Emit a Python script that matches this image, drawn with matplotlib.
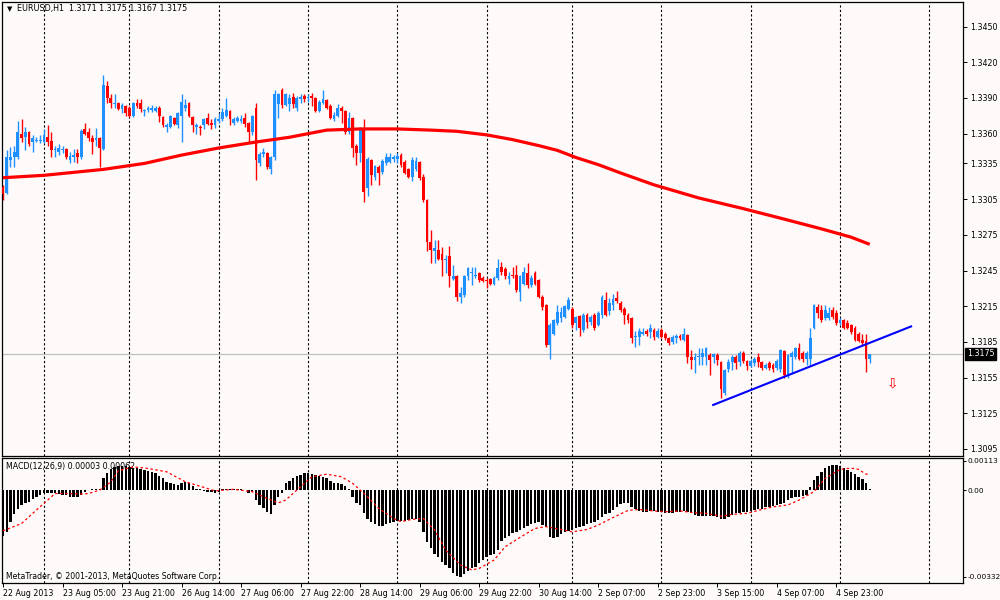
import numpy as np
import matplotlib
matplotlib.use('Agg')
import matplotlib.pyplot as plt

# EURUSD H1 candles, one per hour, bar 0 = 22 Aug 2013 13:00
opens = [1.3315,1.3310,1.3338,1.3340,1.3340,1.3360,1.3357,1.3361,1.3353,1.3354,
         1.3354,1.3353,1.3357,1.3354,1.3346,1.3345,1.3346,1.3347,1.3338,1.3340,
         1.3344,1.3340,1.3364,1.3361,1.3356,1.3355,1.3356,1.3347,1.3400,1.3390,
         1.3385,1.3386,1.3381,1.3383,1.3382,1.3375,1.3386,1.3386,1.3379,1.3380,
         1.3380,1.3379,1.3382,1.3374,1.3366,1.3366,1.3373,1.3367,1.3375,1.3382,
         1.3386,1.3374,1.3366,1.3366,1.3367,1.3373,1.3369,1.3367,1.3371,1.3372,
         1.3375,1.3379,1.3369,1.3371,1.3371,1.3373,1.3369,1.3361,1.3382,1.3335,
         1.3343,1.3344,1.3330,1.3340,1.3385,1.3397,1.3384,1.3385,1.3391,1.3382,
         1.3389,1.3392,1.3390,1.3392,1.3390,1.3379,1.3386,1.3388,1.3383,1.3372,
         1.3375,1.3382,1.3379,1.3361,1.3373,1.3350,1.3344,1.3365,1.3314,1.3338,
         1.3324,1.3332,1.3328,1.3335,1.3336,1.3339,1.3339,1.3342,1.3336,1.3330,
         1.3324,1.3330,1.3336,1.3324,1.3304,1.3269,1.3261,1.3262,1.3259,1.3254,
         1.3257,1.3238,1.3240,1.3223,1.3224,1.3240,1.3243,1.3240,1.3243,1.3239,
         1.3237,1.3238,1.3234,1.3239,1.3248,1.3246,1.3238,1.3241,1.3241,1.3227,
         1.3234,1.3243,1.3233,1.3243,1.3237,1.3223,1.3216,1.3182,1.3192,1.3201,
         1.3205,1.3206,1.3213,1.3213,1.3201,1.3207,1.3195,1.3208,1.3202,1.3208,
         1.3199,1.3208,1.3220,1.3211,1.3216,1.3222,1.3218,1.3213,1.3208,1.3205,
         1.3189,1.3189,1.3192,1.3194,1.3193,1.3195,1.3189,1.3195,1.3192,1.3188,
         1.3185,1.3188,1.3190,1.3187,1.3191,1.3172,1.3170,1.3172,1.3172,1.3172,
         1.3174,1.3172,1.3174,1.3168,1.3142,1.3162,1.3168,1.3172,1.3168,1.3176,
         1.3169,1.3165,1.3167,1.3172,1.3168,1.3163,1.3167,1.3166,1.3163,1.3162,
         1.3177,1.3157,1.3172,1.3172,1.3180,1.3176,1.3171,1.3171,1.3197,1.3214,
         1.3212,1.3205,1.3205,1.3212,1.3209,1.3201,1.3203,1.3201,1.3199,1.3197,
         1.3192,1.3187,1.3186,1.3171]
highs = [1.3317,1.3346,1.3349,1.3350,1.3371,1.3372,1.3366,1.3362,1.3359,1.3357,
         1.3359,1.3364,1.3367,1.3361,1.3350,1.3351,1.3350,1.3348,1.3345,1.3347,
         1.3347,1.3364,1.3369,1.3365,1.3359,1.3365,1.3357,1.3409,1.3404,1.3393,
         1.3393,1.3387,1.3386,1.3384,1.3383,1.3387,1.3389,1.3389,1.3381,1.3383,
         1.3384,1.3383,1.3383,1.3375,1.3369,1.3376,1.3374,1.3378,1.3393,1.3389,
         1.3387,1.3375,1.3369,1.3367,1.3373,1.3377,1.3372,1.3374,1.3377,1.3382,
         1.3390,1.3380,1.3374,1.3375,1.3376,1.3377,1.3370,1.3376,1.3386,1.3345,
         1.3348,1.3345,1.3341,1.3397,1.3394,1.3398,1.3394,1.3393,1.3394,1.3392,
         1.3393,1.3393,1.3393,1.3394,1.3391,1.3388,1.3397,1.3389,1.3385,1.3378,
         1.3385,1.3383,1.3380,1.3378,1.3374,1.3351,1.3366,1.3372,1.3340,1.3339,
         1.3334,1.3334,1.3339,1.3344,1.3344,1.3342,1.3344,1.3344,1.3338,1.3331,
         1.3340,1.3340,1.3337,1.3326,1.3305,1.3279,1.3271,1.3271,1.3265,1.3258,
         1.3266,1.3250,1.3241,1.3231,1.3241,1.3248,1.3248,1.3248,1.3244,1.3240,
         1.3239,1.3239,1.3240,1.3255,1.3252,1.3248,1.3244,1.3248,1.3250,1.3241,
         1.3248,1.3251,1.3241,1.3245,1.3238,1.3224,1.3217,1.3201,1.3204,1.3216,
         1.3214,1.3216,1.3223,1.3214,1.3207,1.3208,1.3209,1.3209,1.3208,1.3209,
         1.3211,1.3224,1.3227,1.3222,1.3225,1.3228,1.3219,1.3214,1.3209,1.3206,
         1.3194,1.3197,1.3197,1.3196,1.3200,1.3197,1.3197,1.3197,1.3193,1.3189,
         1.3191,1.3192,1.3192,1.3197,1.3192,1.3178,1.3176,1.3180,1.3180,1.3181,
         1.3176,1.3176,1.3176,1.3169,1.3162,1.3171,1.3174,1.3174,1.3177,1.3177,
         1.3170,1.3171,1.3172,1.3176,1.3169,1.3167,1.3169,1.3167,1.3171,1.3179,
         1.3178,1.3175,1.3177,1.3181,1.3184,1.3177,1.3177,1.3197,1.3217,1.3217,
         1.3216,1.3216,1.3214,1.3214,1.3212,1.3205,1.3204,1.3203,1.3200,1.3198,
         1.3193,1.3192,1.3192,1.3175]
lows = [1.3304,1.3309,1.3332,1.3332,1.3339,1.3353,1.3346,1.3350,1.3345,1.3353,
        1.3352,1.3352,1.3350,1.3340,1.3340,1.3342,1.3344,1.3339,1.3335,1.3336,
        1.3335,1.3339,1.3359,1.3354,1.3343,1.3350,1.3332,1.3346,1.3386,1.3382,
        1.3382,1.3380,1.3377,1.3375,1.3374,1.3374,1.3382,1.3378,1.3375,1.3378,
        1.3378,1.3378,1.3370,1.3366,1.3361,1.3365,1.3367,1.3365,1.3353,1.3379,
        1.3374,1.3361,1.3360,1.3359,1.3364,1.3367,1.3364,1.3365,1.3369,1.3371,
        1.3374,1.3367,1.3367,1.3370,1.3369,1.3366,1.3353,1.3359,1.3321,1.3333,
        1.3340,1.3330,1.3326,1.3338,1.3373,1.3382,1.3383,1.3379,1.3382,1.3379,
        1.3386,1.3387,1.3387,1.3383,1.3378,1.3378,1.3385,1.3381,1.3372,1.3371,
        1.3374,1.3369,1.3360,1.3360,1.3340,1.3334,1.3336,1.3303,1.3308,1.3317,
        1.3321,1.3317,1.3326,1.3334,1.3335,1.3336,1.3335,1.3332,1.3326,1.3323,
        1.3320,1.3329,1.3321,1.3303,1.3261,1.3251,1.3251,1.3254,1.3240,1.3243,
        1.3231,1.3237,1.3219,1.3218,1.3223,1.3237,1.3233,1.3239,1.3235,1.3235,
        1.3230,1.3233,1.3233,1.3237,1.3241,1.3238,1.3234,1.3239,1.3227,1.3219,
        1.3233,1.3230,1.3231,1.3233,1.3222,1.3212,1.3181,1.3171,1.3191,1.3199,
        1.3202,1.3205,1.3212,1.3197,1.3195,1.3190,1.3193,1.3197,1.3199,1.3195,
        1.3198,1.3205,1.3207,1.3208,1.3212,1.3218,1.3210,1.3200,1.3201,1.3184,
        1.3181,1.3182,1.3191,1.3190,1.3188,1.3187,1.3188,1.3188,1.3187,1.3182,
        1.3183,1.3184,1.3187,1.3186,1.3167,1.3162,1.3159,1.3166,1.3166,1.3166,
        1.3157,1.3167,1.3166,1.3138,1.3140,1.3160,1.3161,1.3162,1.3165,1.3167,
        1.3161,1.3164,1.3165,1.3164,1.3161,1.3162,1.3161,1.3160,1.3161,1.3160,
        1.3155,1.3155,1.3159,1.3171,1.3170,1.3168,1.3166,1.3166,1.3196,1.3205,
        1.3202,1.3203,1.3203,1.3204,1.3199,1.3199,1.3196,1.3196,1.3192,1.3186,
        1.3185,1.3182,1.3160,1.3167]
closes = [1.3309,1.3340,1.3340,1.3345,1.3361,1.3356,1.3361,1.3351,1.3356,1.3355,
          1.3355,1.3359,1.3353,1.3346,1.3347,1.3348,1.3347,1.3340,1.3341,1.3342,
          1.3340,1.3362,1.3360,1.3356,1.3353,1.3356,1.3348,1.3401,1.3390,1.3386,
          1.3386,1.3381,1.3384,1.3377,1.3375,1.3386,1.3383,1.3381,1.3380,1.3382,
          1.3382,1.3382,1.3375,1.3367,1.3367,1.3375,1.3368,1.3377,1.3387,1.3384,
          1.3375,1.3367,1.3367,1.3365,1.3372,1.3368,1.3367,1.3372,1.3372,1.3378,
          1.3380,1.3372,1.3372,1.3373,1.3372,1.3368,1.3361,1.3375,1.3338,1.3343,
          1.3345,1.3332,1.3340,1.3393,1.3393,1.3384,1.3393,1.3390,1.3385,1.3390,
          1.3391,1.3389,1.3391,1.3390,1.3379,1.3387,1.3389,1.3382,1.3373,1.3376,
          1.3382,1.3379,1.3361,1.3373,1.3348,1.3344,1.3365,1.3311,1.3339,1.3325,
          1.3333,1.3327,1.3337,1.3340,1.3340,1.3340,1.3341,1.3334,1.3327,1.3324,
          1.3338,1.3337,1.3323,1.3304,1.3269,1.3262,1.3264,1.3255,1.3254,1.3255,
          1.3240,1.3240,1.3223,1.3226,1.3240,1.3247,1.3244,1.3241,1.3237,1.3236,
          1.3236,1.3234,1.3239,1.3247,1.3244,1.3240,1.3240,1.3240,1.3229,1.3240,
          1.3244,1.3233,1.3239,1.3234,1.3223,1.3214,1.3182,1.3199,1.3203,1.3210,
          1.3210,1.3215,1.3220,1.3199,1.3206,1.3197,1.3208,1.3202,1.3206,1.3197,
          1.3209,1.3223,1.3208,1.3218,1.3221,1.3219,1.3212,1.3208,1.3203,1.3188,
          1.3190,1.3194,1.3193,1.3192,1.3197,1.3189,1.3194,1.3189,1.3188,1.3184,
          1.3189,1.3190,1.3188,1.3192,1.3172,1.3170,1.3172,1.3173,1.3176,1.3180,
          1.3170,1.3175,1.3170,1.3145,1.3161,1.3168,1.3172,1.3167,1.3176,1.3169,
          1.3165,1.3169,1.3171,1.3168,1.3163,1.3166,1.3163,1.3162,1.3169,1.3178,
          1.3157,1.3174,1.3176,1.3180,1.3171,1.3171,1.3176,1.3188,1.3216,1.3209,
          1.3203,1.3212,1.3209,1.3206,1.3201,1.3203,1.3197,1.3197,1.3193,1.3187,
          1.3186,1.3184,1.3171,1.3175]

# moving average (red line), read at a number of bars
ma_bars = [0, 11, 27, 38, 48, 58, 68, 77, 82, 87, 96, 106, 115, 122, 130, 137, 144, 149, 154,
           160, 166, 175, 187, 199, 209, 220, 228, 233]
ma_vals = [1.3323, 1.3325, 1.3330, 1.3335, 1.3342, 1.3348, 1.3353, 1.3357, 1.3360, 1.3363,
           1.3364, 1.3364, 1.3363, 1.3362, 1.3359, 1.3355, 1.3350, 1.3346, 1.3340, 1.3334,
           1.3327, 1.3317, 1.3306, 1.3297, 1.3289, 1.3280, 1.3273, 1.3267]

# hand drawn trend line
trend_bars = [190.9, 244.1]
trend_vals = [1.3132, 1.3198]

# MACD(12,26,9) main histogram, in units of 0.00001
macd = [-176,-160,-121,-92,-74,-57,-51,-45,-36,-28,-19,-13,-10,-10,-13,-15,-19,-19,-26,-28,
        -28,-19,-6,-1,3,6,3,45,66,79,89,92,92,92,89,83,83,79,77,74,
        70,64,54,45,32,28,23,19,28,32,26,15,6,3,-3,-6,-6,-10,-6,3,
        6,6,3,3,3,-1,-13,-6,-38,-57,-70,-83,-92,-57,-26,-10,26,36,45,54,
        57,64,66,61,57,54,51,45,36,28,26,23,15,6,-26,-51,-57,-89,-109,-121,
        -128,-138,-138,-130,-125,-121,-117,-117,-117,-115,-109,-112,-121,-160,-198,-223,-243,-255,-275,-287,
        -300,-317,-329,-332,-322,-309,-300,-296,-281,-268,-255,-249,-243,-230,
        -194,-185,-176,-166,-160,-153,-147,-138,-128,-125,-121,-134,-140,-181,-185,-179,-169,-160,-156,-151,
        -147,-143,-138,-130,-125,-121,-115,-102,-92,-87,-77,-64,-54,-49,-51,-64,-74,-80,-83,-83,
        -79,-80,-83,-83,-86,-86,-87,-83,-83,-80,-83,-87,-96,-100,-100,-98,-100,-100,-102,-109,
        -109,-102,-96,-89,-87,-83,-83,-79,-77,-74,-72,-66,-66,-61,-57,-54,-49,-38,-32,-28,
        -26,-23,-17,10,38,54,70,83,92,96,96,92,83,77,70,61,51,41,26,3]
# signal line, read at a number of bars, units of 0.00001
sig_bars = [0,5,8,11,14,17,21,23,26,29,31,35,39,44,49,55,57,62,67,71,74,76,80,83,87,91,94,98,101,105,
            107,110,113,116,119,123,126,128,132,135,139,143,146,150,153,157,160,164,168,171,175,178,182,
            186,189,193,196,200,204,207,211,214,218,221,225,227,229,230,232,233]
sig_vals = [-156,-128,-89,-51,-13,-13,-15,-13,0,32,74,89,83,70,32,6,-3,3,-6,-32,-49,-38,13,51,61,51,26,
            -26,-70,-109,-121,-112,-109,-153,-230,-287,-306,-300,-268,-217,-181,-147,-140,-151,-160,-151,
            -134,-105,-78,-74,-80,-83,-80,-87,-89,-100,-93,-89,-74,-64,-57,-38,-6,45,79,83,83,79,61,62]

tick_bars = [0, 16, 32, 48, 64, 80, 96, 112, 128, 144, 160, 176, 192, 208, 224]
tick_labels = ['22 Aug 2013', '23 Aug 05:00', '23 Aug 21:00', '26 Aug 14:00', '27 Aug 06:00',
               '27 Aug 22:00', '28 Aug 14:00', '29 Aug 06:00', '29 Aug 22:00', '30 Aug 14:00',
               '2 Sep 07:00', '2 Sep 23:00', '3 Sep 15:00', '4 Sep 07:00', '4 Sep 23:00']
grid_bars = [11, 34, 58, 82, 106, 130, 153, 177, 201, 225, 249]
price_ticks = [1.3450, 1.3420, 1.3390, 1.3360, 1.3335, 1.3305, 1.3275, 1.3245,
               1.3215, 1.3185, 1.3155, 1.3125, 1.3095]
last_price = 1.3175

bg = '#FFFAFA'
blue = '#1E90FF'
red = '#FF0000'
fs = 5.7

o = np.array(opens); h = np.array(highs); l = np.array(lows); c = np.array(closes)
idx = np.arange(len(c))
cols = np.where(c >= o, blue, red)

fig = plt.figure(figsize=(10, 6), dpi=100, facecolor=bg)
ax = fig.add_axes([0.002, 0.24, 0.961, 0.7567], facecolor=bg)
ax2 = fig.add_axes([0.002, 0.02833, 0.961, 0.20833], facecolor=bg)

for a in (ax, ax2):
    a.set_xlim(-0.27, 258.06)
    for b in grid_bars:
        a.axvline(b, color='black', lw=0.8, ls=(0, (2, 2)), zorder=0.6)
    for s in a.spines.values():
        s.set_color('black')
        s.set_linewidth(0.9)
    a.yaxis.tick_right()
    a.tick_params(axis='y', direction='out', length=3, width=0.7, pad=2, labelsize=fs)

# price panel
ax.set_ylim(1.30891, 1.34707)
ax.axhline(last_price, color='#C0C0C0', lw=0.9, zorder=1)
ax.vlines(idx, l, h, colors=cols, lw=1.0, zorder=2)
ax.bar(idx, np.maximum(np.abs(c - o), 0.00003), bottom=np.minimum(o, c), width=0.75,
       color=cols, lw=0, zorder=3)
ax.plot(ma_bars, ma_vals, color=red, lw=2.3, zorder=4, solid_capstyle='butt', solid_joinstyle='round')
ax.plot(trend_bars, trend_vals, color='#0000FF', lw=1.5, zorder=4)
ax.text(239.2, 1.3150, '\u21e9', color=red, fontsize=10, ha='center', va='center')
ax.set_yticks(price_ticks)
ax.set_yticklabels(['%.4f' % p for p in price_ticks])
ax.tick_params(axis='x', bottom=False, labelbottom=False)
ax.text(1.004, last_price, '%.4f' % last_price, transform=ax.get_yaxis_transform(),
        color='white', fontsize=fs, va='center', ha='left',
        bbox=dict(boxstyle='square,pad=0.2', fc='black', ec='black'))

fig.text(0.007, 1 - 9 / 600, '\u25bc', fontsize=5, va='center', ha='left')
fig.text(0.017, 1 - 9 / 600, 'EURUSD,H1  1.3171 1.3175 1.3167 1.3175', fontsize=5.8,
         va='center', ha='left')

# MACD panel
hist = np.array(macd) * 1e-5
ax2.set_ylim(-0.00356, 0.00123)
ax2.bar(idx, hist, width=0.65, color='black', lw=0, zorder=2)
ax2.plot(sig_bars, np.array(sig_vals) * 1e-5, color=red, lw=0.9, ls=(0, (2, 2)), zorder=3)
ax2.set_yticks([0.00113, 0.0, -0.00332])
ax2.set_yticklabels(['0.00113', '0.00', '-0.00332'])
ax2.tick_params(axis='y', length=2, pad=1, labelsize=5.3)
ax2.text(0.004, 0.93, 'MACD(12,26,9) 0.00003 0.00062', transform=ax2.transAxes,
         fontsize=fs, va='center', ha='left', zorder=1)
ax2.text(0.004, 0.05, 'MetaTrader, \u00a9 2001-2013, MetaQuotes Software Corp.',
         transform=ax2.transAxes, fontsize=5.6, va='center', ha='left', zorder=1)
ax2.set_xticks(tick_bars)
ax2.set_xticklabels(tick_labels)
ax2.tick_params(axis='x', direction='out', length=3, width=0.7, pad=1.5, labelsize=fs)
for lbl in ax2.get_xticklabels():
    lbl.set_horizontalalignment('left')

fig.savefig('out.png', dpi=100, facecolor=bg)
